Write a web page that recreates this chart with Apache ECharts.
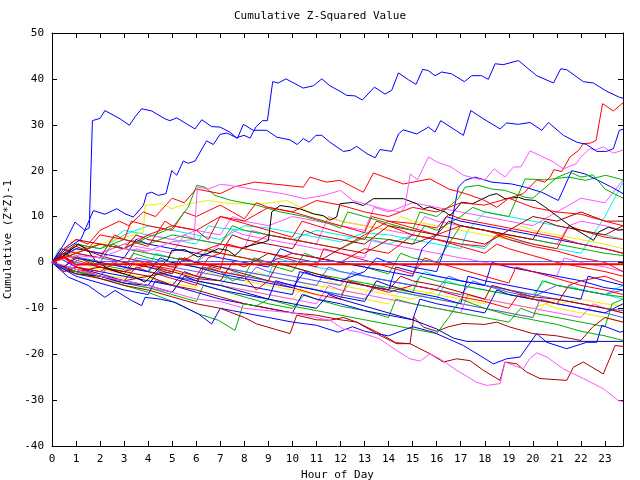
<!DOCTYPE html>
<html><head><meta charset="utf-8">
<script src="https://cdn.jsdelivr.net/npm/echarts@6/dist/echarts.min.js"></script>
<style>html,body{margin:0;padding:0;background:#fff}#c{width:640px;height:480px}</style>
</head><body><div id="c"></div>
<script>
// ---- data: [hour, cumulative value] ----
const hourTicks = [0,1,2,3,4,5,6,7,8,9,10,11,12,13,14,15,16,17,18,19,20,21,22,23];
const blueA = [[0,0],[0.5,4],[0.96,8.8],[1.37,7],[1.55,7.5],[1.68,30.9],[2.0,31.4],[2.2,33.1],[2.83,31.3],[3.22,29.9],[3.45,31.7],[3.73,33.5],[4.15,33.0],[4.7,31.3],[4.9,30.9],[5.19,31.5],[5.6,30.2],[5.95,29.1],[6.23,31.1],[6.64,29.6],[6.99,29.5],[7.4,28.4],[7.71,27.0],[7.96,30.1],[8.37,28.8],[8.93,28.8],[9.35,27.3],[9.9,26.7],[10.2,25.7],[10.45,27.0],[10.7,26.2],[10.98,27.7],[11.22,27.7],[11.56,26.2],[12.12,24.2],[12.4,24.4],[12.67,25.3],[13.1,23.7],[13.44,22.8],[13.64,24.6],[14.13,24.2],[14.41,28.0],[14.61,28.9],[15.17,28.0],[15.66,29.5],[15.93,28.4],[16.17,30.9],[17.11,27.7],[17.42,33.1],[17.94,31.3],[18.64,29.1],[18.91,30.4],[19.4,30.1],[19.88,30.5],[20.37,28.8],[20.65,30.5],[21.27,27.7],[21.83,26.2],[22.24,25.7],[22.66,24.2],[23.07,24.2],[23.35,24.8],[23.6,28.8],[23.75,29]];
const blueB = [[0,0],[0.6,3],[1.2,5],[1.72,11.3],[2.2,10.5],[2.69,11.7],[3.04,10.6],[3.38,9.9],[3.8,12.4],[3.94,15.0],[4.15,15.3],[4.42,14.6],[4.74,15.0],[4.98,20.0],[5.19,19.0],[5.46,22.1],[5.67,21.6],[5.95,22.1],[6.43,26.5],[6.71,25.7],[6.99,27.9],[7.27,28.2],[7.68,27.2],[7.99,27.7],[8.24,27.1],[8.49,29.6],[8.76,30.9],[8.96,30.9],[9.18,39.4],[9.41,39.1],[9.73,40.0],[10.45,38.0],[10.87,38.5],[11.22,40.0],[11.56,38.5],[11.98,37.3],[12.26,36.4],[12.6,36.3],[12.91,35.4],[13.41,38.2],[13.85,36.7],[14.13,37.5],[14.41,41.3],[14.83,39.8],[15.14,38.8],[15.42,42.1],[15.65,41.8],[15.93,40.7],[16.21,41.5],[16.62,41.1],[17.15,39.4],[17.46,40.7],[17.87,40.7],[18.15,39.9],[18.43,43.3],[18.77,43.1],[19.4,44.0],[20.16,40.7],[20.86,39.1],[21.16,42.2],[21.41,42.0],[22.1,39.4],[22.52,39.1],[23.07,37.3],[23.6,36.0],[23.75,35.8]];
const magentaUp = [[0,0],[1,1.5],[2,1],[3,3],[4,2.5],[5,4.5],[5.9,5],[6.05,16.4],[6.5,16],[7,17],[7.4,16.8],[8.3,16.0],[9.6,15],[10.5,13.9],[11.3,14.6],[12,15.7],[12.5,13.5],[13.2,12.5],[13.9,11.5],[14.5,11],[14.68,12.1],[14.9,19.3],[15.2,18.0],[15.66,23.0],[16.0,21.9],[16.6,20.8],[17.11,19.0],[17.7,18.2],[18.0,18.0],[18.39,20.4],[18.84,18.6],[19.19,20.8],[19.5,20.8],[19.88,24.3],[20.3,23.3],[20.86,21.9],[21.27,20.4],[21.8,21.5],[22.0,23.0],[22.38,24.8],[22.6,24.5],[22.93,25.2],[23.35,23.8],[23.75,24.5]];
const redEnd = [[0,0],[1,2],[2,4],[3,3],[4,6],[5,8],[6,7],[7,10],[8,9],[9,12],[10,11],[11,13.5],[12,12.5],[13,11],[14,10],[15,12],[16,11],[17,13],[18,12.5],[19,14],[19.6,15],[20.16,18.0],[20.5,17.5],[20.72,18.6],[20.88,20.2],[21.2,19.8],[21.55,23.0],[21.9,24.4],[22.1,25.9],[22.4,26],[22.63,26.6],[22.9,34.6],[23.35,33.0],[23.75,34.8]];
const redMid = [[0,0],[0.5,3],[1,5],[1.5,4],[2,7],[2.8,9],[3.2,8],[3.8,11],[4.3,10],[5,14],[5.5,13],[6,16],[7,15],[7.6,16.5],[8.44,17.5],[9.2,17.1],[10.45,16.4],[10.73,18.6],[11.42,17.5],[11.98,17.9],[12.95,15.3],[13.37,19.5],[14.61,17.1],[15.72,18.2],[16.5,16],[17.2,15],[18,13.5],[18.5,12],[19,14],[20,12],[21,11],[22,10.5],[23,9],[23.75,8]];
const blackLine = [[0,0],[0.5,1.5],[1.1,4],[1.5,2.6],[1.8,0.4],[2.34,-1.4],[3.0,-2.5],[3.45,-3.2],[3.87,-4.3],[4.3,-2],[4.84,0.8],[4.98,2.6],[5.53,2.8],[5.81,1.9],[6.09,1.2],[6.64,2.3],[6.92,3.0],[7.33,2.6],[7.61,1.5],[7.96,3.3],[8.79,4.4],[9.0,4.8],[9.14,11.0],[9.48,12.4],[9.9,12.1],[10.3,11.7],[10.87,10.6],[11.28,10.2],[11.56,9.2],[11.84,9.9],[11.98,12.8],[12.53,13.1],[12.95,12.4],[13.37,13.9],[14.61,13.9],[15.17,12.8],[15.45,11.7],[15.72,12.1],[16.35,11.0],[16.56,10.2],[17.04,13.1],[17.5,12.8],[18.2,14.6],[18.5,15.0],[18.84,13.9],[19.4,14.2],[19.68,13.7],[20.1,13.5],[20.5,12.1],[21.06,9.9],[21.62,7.7],[22.31,5.5],[22.52,4.8],[22.73,6.6],[23.15,7.7],[23.56,7.0],[23.75,7.2]];
const greenUp = [[0,0],[1,2],[2,4],[3,3],[4,5.5],[5,7.5],[5.25,9.2],[5.67,12.1],[6.02,16.8],[6.37,16.4],[6.78,14.6],[7.47,13.5],[8.5,12.5],[9.5,11],[10.5,10],[11.5,8.5],[12,7.5],[12.3,11],[13,10],[14,8.5],[15,7],[15.3,11],[16,10],[16.9,13.9],[17.18,16.4],[17.74,16.8],[18.29,16.0],[18.84,15.7],[19.68,14.2],[20,14],[21,18.5],[21.55,19.7],[22,18.6],[22.5,19.1],[23,16],[23.75,14]];
const magentaLow = [[0,0],[1,-1.5],[2,-3],[3,-4],[4,-5],[5,-6.5],[6,-8],[7,-8.5],[8,-10],[9,-10.5],[10,-11],[11,-12],[11.56,-12.6],[12.12,-14.5],[12.81,-15.2],[13.64,-16.7],[14.34,-19.2],[14.89,-21.0],[15.31,-21.5],[15.72,-19.9],[16.14,-21.0],[16.83,-23.5],[17.66,-26.1],[18.08,-26.8],[18.64,-26.4],[18.84,-21.7],[19.6,-23.2],[19.86,-21.0],[20.16,-19.7],[20.58,-20.6],[21.27,-23.2],[22.1,-25.3],[22.93,-27.5],[23.56,-30.1],[23.75,-30.3]];
const darkredLow = [[0,0],[0.5,-1],[1,-2.5],[2,-3.5],[3,-5],[4,-6],[5,-7.5],[6,-9],[7,-10],[8,-12],[8.51,-13.4],[9.9,-15.5],[10.18,-11.5],[11,-12.5],[11.56,-12.6],[12.12,-12.0],[12.67,-13.0],[13.64,-15.9],[14.34,-17.7],[14.89,-17.7],[15.72,-19.9],[16.28,-21.7],[16.83,-21.0],[17.39,-21.4],[17.94,-23.5],[18.64,-25.7],[18.84,-21.7],[19.33,-22.1],[19.74,-23.9],[20.3,-25.3],[21.41,-25.7],[21.69,-22.8],[22.1,-21.7],[22.93,-24.3],[23.42,-18.1],[23.75,-18.3]];
const darkred2 = [[0,0],[1,-1.5],[2,-3],[3,-4],[4,-3],[5,-5],[6,-6],[7,-7.5],[8,-9],[9,-10],[10,-11],[11,-11.5],[12,-12.5],[12.67,-13.0],[13.64,-15.5],[14.3,-17.5],[14.89,-17.7],[15.05,-11.9],[15.45,-14.1],[16,-15],[16.5,-14],[17.1,-13.3],[18,-13.5],[18.5,-13],[19,-14],[20,-15.5],[21,-16],[22,-17],[22.5,-14],[23,-12],[23.75,-13]];
const navyFlat = [[0,0],[0.5,-1.5],[1,-2.5],[2,-3],[3,-4.5],[4,-5],[5,-6.5],[5.5,-3],[6,-4],[7,-5],[8,-6.5],[9,-8],[10,-9],[11,-10],[11.5,-7],[12,-8],[13,-9.5],[14,-11],[15,-12.5],[16,-14.5],[16.7,-16.5],[17.25,-17.2],[23.75,-17.2]];
const blueLow = [[0,0],[0.68,-3.2],[1.5,-5],[2.2,-7.6],[2.62,-6.1],[3.31,-8.3],[3.73,-9.4],[3.87,-7.6],[4.5,-8],[5.12,-8.7],[6.08,-11.2],[6.64,-13.4],[7,-10],[7.5,-10.5],[8,-11],[9,-12],[10,-13],[11,-13.7],[11.9,-15.2],[12.5,-14],[13,-15],[14,-16],[15,-14],[15.86,-15.2],[17.11,-18.1],[18.36,-22.1],[18.91,-21.0],[19.47,-20.6],[20.16,-15.5],[20.58,-17.4],[21.41,-18.8],[22.24,-17.4],[22.66,-17.4],[22.87,-13.7],[23.63,-15.2],[23.75,-15]];
const greenLow = [[0,0],[0.5,-1.5],[1,-2],[2,-3.5],[3,-5],[4,-6.5],[5,-8.5],[6.08,-11.2],[6.92,-12.6],[7.61,-14.8],[7.96,-9.0],[8.5,-9.5],[9,-8],[10,-9.5],[11,-10.5],[12,-11.5],[13,-12.5],[14,-13.5],[15,-14.5],[16,-15.5],[16.5,-12],[17,-8],[17.5,-9],[18,-10],[19,-11.5],[20,-12.5],[21,-13.5],[22,-15],[23,-16],[23.75,-17]];
const redFlat = [[0,0],[0.5,1.2],[1.0,-0.5],[1.5,-0.4],[23.75,-0.4]];
const blueFlat = [[0,0],[0.6,-1.5],[1.2,1],[2,0.2],[23.75,0.2]];
const red1 = [[0,0],[0.4,3],[1,2],[2,1],[2.6,6],[3,5],[4,3.5],[4.7,9],[5,8],[6,7],[6.5,5],[7,10],[8,8.5],[9,7],[10,5.5],[10.4,9],[11,8],[12,6.5],[13,5],[13.5,9],[14,8],[15,6],[16,5],[17,3.5],[18,2],[18.5,4],[19,3],[20,1.5],[21,0],[22,-1],[23,-2],[23.75,-3]];
const red2 = [[0,0],[0.5,-1],[1,1.5],[1.5,0],[2,-1],[3,-2.5],[3.5,0.5],[4,-0.5],[5,-2],[5.5,1],[6,0],[7,-1.5],[7.3,4],[8,3],[9,2],[10,0.5],[11,-1],[11.3,3],[12,2],[13,0.5],[14,-1],[15,-2.5],[15.5,1],[16,0],[17,-1.5],[18,-3],[19,-4.5],[19.3,-1],[20,-2],[21,-3.5],[22,-5],[23,-6],[23.75,-7]];
const red3 = [[0,0],[0.5,2],[1,4],[1.5,3],[2,6],[3,5],[3.3,9],[4,8],[5,7],[5.5,11],[6,10],[7,12.5],[7.5,11],[8,9.5],[8.5,13],[9,12],[10,11],[11,9.5],[12,8],[13,6.5],[13.3,10],[14,9],[15,7.5],[16,6],[17,8],[18,7],[19,5.5],[20,4],[21,3],[21.5,8],[22,7],[23,5.5],[23.75,5]];
const red4 = [[0,0],[0.5,-2],[1,-1],[2,-3],[3,-4],[3.5,-1],[4,-2],[5,-3.5],[6,-5],[6.3,-1],[7,-2],[8,-3],[8.5,-6],[9,-4],[10,-5.5],[11,-7],[12,-8],[12.3,-4],[13,-5],[14,-6.5],[15,-5],[16,-6],[17,-7.5],[18,-8.5],[19,-10],[19.4,-7],[20,-8],[21,-9],[21.5,-5],[22,-4],[23,-3],[23.75,-4.5]];
const red5 = [[0,0],[0.5,1],[1,-1],[2,-2],[3,1],[4,0],[5,-1],[6,2],[7,4],[8,3],[9,6],[10,5],[11,4],[12,3],[13,6],[14,9],[15,8.5],[16,7.5],[16.5,10.5],[17,9.5],[18,8.5],[19,7.5],[20,6.5],[21,5.5],[22,4],[23,3],[23.75,2]];
const red6 = [[0,0],[0.5,2],[1,0.5],[2,-1],[3,-2],[4,-0.5],[5,-1.5],[6,-3],[6.5,1],[7,2],[8,1],[9,0],[10,2],[11,1],[12,0],[13,3],[14,2],[15,6],[16,5],[17,4],[18,3.5],[18.5,6],[19,5],[20,3.5],[21,2.5],[22,1],[23,0],[23.75,-2]];
const darkred1 = [[0,0],[0.5,2],[1,3.5],[1.5,2.5],[2,1.5],[3,0],[4,-1],[5,-2.5],[5.3,1],[6,0],[7,-1],[8,-2.5],[9,-4],[9.4,0],[10,-1],[11,-2.5],[12,-4],[13,-5],[14,-6],[14.5,-3],[15,-4],[16,-5],[17,-6.5],[18,-8],[18.3,-5],[19,-6],[20,-7.5],[21,-8],[22,-9],[23,-10],[23.75,-11]];
const darkred3 = [[0,0],[0.5,3],[1,5],[2,4],[3,3],[3.5,6],[4,5],[5,4],[6,3],[7,2],[7.5,6],[8,5],[9,4],[10,3],[10.5,7],[11,6],[12,5],[13,4],[14,8],[15,7],[16,6],[16.5,9],[17,8],[18,7],[19,6],[20,5],[20.5,9],[21,8],[22,7],[23,6],[23.75,8]];
const darkred4 = [[0,0],[0.5,-1],[1,-2],[2,-1],[3,-2],[4,-3],[5,-2],[6,-3.5],[7,-4],[7.5,0],[8,-1],[9,2],[10,1],[11,0],[12,3],[13,2],[14,5],[15,4],[16,6],[17,5],[18,4],[19,7],[20,10],[21,9],[22,11],[22.5,10],[23,9],[23.75,9]];
const green1 = [[0,0],[0.5,2],[1,1],[2,0],[2.5,4],[3,3],[4,2],[5,1],[6,0],[6.5,3],[7,2],[8,1],[9,-0.5],[10,-2],[10.5,2],[11,1],[12,0],[13,-1],[14,-2.5],[14.5,2],[15,1],[16,0],[16.5,4],[17,8],[18,7],[19,6],[20,5],[21,4],[22,3],[23,2],[23.75,1.5]];
const green2 = [[0,0],[0.5,-1.5],[1,-2],[2,-3],[3,-4.5],[4,-5.5],[5,-7],[6,-8.5],[6.3,-5],[7,-6],[8,-7.5],[9,-9],[10,-10],[10.5,-7],[11,-8],[12,-9.5],[13,-10.5],[14,-12],[14.3,-8],[15,-9],[16,-10],[17,-11],[18,-12],[19,-13],[19.5,-10],[20,-11],[21,-12],[22,-13],[23,-14],[23.3,-9],[23.75,-8]];
const green3 = [[0,0],[0.3,2],[1,1],[2,-0.5],[3,-1.5],[3.4,2],[4,1],[5,0],[6,-1],[7,-2],[7.5,-4],[8,-3],[8.4,1],[9,0],[10,-1],[11,-2.5],[12,-3.5],[13,-4.5],[14,-5.5],[15,-6.5],[15.3,-3],[16,-4],[17,-5],[18,-6],[19,-7],[20,-8],[20.4,-4],[21,-5],[22,-6],[23,-7],[23.75,-7.5]];
const green4 = [[0,0],[0.5,2],[1,4],[2,3],[3,5],[4,4],[5,6],[6,5],[7,4],[7.5,8],[8,7],[9,6],[10,5],[11,4],[12,3],[13,5.5],[14,5],[15,4],[15.5,8],[16,7],[17,10],[17.5,12],[18,11],[19,10],[19.68,18.2],[20.5,18],[21.47,18.6],[22.2,17.9],[23.03,19],[23.75,18]];
const blue1 = [[0,0],[0.5,-2],[1,-1],[2,-2.5],[3,-4],[4,-5],[4.4,-2],[5,-3],[6,-4.5],[7,-6],[8,-7],[9,-8],[9.3,-4],[10,-5],[11,-6],[12,-7.5],[13,-8.5],[13.5,-4],[14,-5],[15,-6.5],[16,-7.5],[17,-9],[17.3,-3],[18,-4],[19,-5],[20,-6],[21,-7],[22,-8],[22.3,-3],[23,-4],[23.75,-5]];
const blue2 = [[0,0],[0.5,1.5],[1,3],[2,2],[3,1],[3.5,5],[4,4],[5,3],[6,2],[7,1],[8,0],[9,-1],[9.5,3],[10,2],[11,1],[12,0],[13,-1],[14,-2],[15,-3],[15.4,3],[16,6],[16.4,10],[17,9],[18,8],[19,7],[20,6],[21,5],[22,4],[23,3],[23.75,2]];
const blue3 = [[0,0],[0.3,1],[1,-1],[2,-2],[3,-3],[4,-4],[5,-5],[5.5,-2],[6,-3],[7,-4],[8,-5],[9,-6],[10,-7],[10.3,-2],[11,-3],[12,-4],[13,-5],[14,-6],[14.3,-1],[15,-2],[16,-3],[17,-4],[18,-5],[18.3,0],[19,-1],[20,-2],[21,-3],[22,-4],[23,-5.5],[23.75,-6]];
const blue4 = [[0,0],[0.5,-1],[1,1],[2,0],[3,-1],[4,-2],[4.5,1],[5,0],[6,-1],[7,-2.5],[8,-3.5],[9,-4.5],[10,-5.5],[10.5,-2],[11,-3],[12,-4],[13,-2],[13.5,1],[14,0],[15,-1],[16,-2],[16.5,5.5],[16.9,16.4],[17.18,17.9],[17.6,18.6],[18.29,17.5],[19.12,17.1],[19.68,16.4],[20.37,15.3],[21.06,13.5],[21.62,20.0],[22.17,19.3],[23.28,16.4],[23.75,15]];
const blue5 = [[0,0],[0.5,-1.5],[1,-3],[2,-4.5],[3,-6],[4,-7],[4.3,-4],[5,-5],[6,-6.5],[7,-8],[8,-9],[9,-10],[10,-11],[10.4,-7],[11,-8],[12,-9],[13,-10.5],[14,-11.5],[15,-12.5],[15.3,-8],[16,-9],[17,-10],[18,-11],[18.5,-6],[19,-7],[20,-8],[21,-9],[22,-10],[23,-11],[23.75,-9]];
const lav1 = [[0,0],[0.5,1],[1,0],[2,-1],[3,-2],[3.5,1],[4,0.5],[5,-1],[6,-2],[7,-3],[8,-4],[8.5,-1],[9,-2],[10,-3],[11,-4],[12,-5],[12.5,-2],[13,-3],[14,-4],[15,-5],[16,-6],[17,-7],[17.5,-4],[18,-5],[19,-6],[20,-7],[21,-8],[22,-9],[23,-10],[23.75,-10.5]];
const lav2 = [[0,0],[0.5,3],[1,2],[2,1],[3,0],[4,-1],[5,-2],[5.5,1],[6,0],[7,-1],[8,-2],[9,-3],[10,-4],[11,-5],[11.5,-1],[12,-2],[13,-3],[14,-4],[15,-5],[16,-6],[16.5,-3],[17,-4],[18,-5],[19,-6.5],[20,-7.5],[21,-5],[22,-6],[23,-7],[23.75,-6]];
const lav3 = [[0,0],[0.5,-1],[1,-2],[2,-3],[2.5,0],[3,-1],[4,-2],[5,-3],[6,-4],[6.5,-1],[7,-2],[8,-3],[9,-4],[10,-5],[11,-6],[12,-7],[13,-8],[13.5,-5],[14,-6],[15,-7],[16,-8],[17,-9],[18,-10],[19,-11],[20,-12],[20.3,-8],[21,-9],[22,-10],[23,-11],[23.75,-12]];
const mag1 = [[0,0],[0.5,2],[1,1],[2,0],[3,-1],[3.5,3],[4,2],[5,1],[6,0],[7,4],[7.5,7],[8,6],[9,5],[10,4],[11,3],[12,2],[13,1],[13.3,5],[14,4],[15,3],[16,2],[17,1],[18,0],[19,-1],[20,-2],[21,-3],[21.3,1],[22,0],[23,-1],[23.75,-2]];
const mag2 = [[0,0],[0.5,1],[1,3],[2,2],[3,4],[4,3],[5,2],[5.5,6],[6,5],[7,4],[8,3],[8.3,7],[9,6],[10,5],[11,4],[11.5,10],[12,9],[13,8],[14,7],[15,6],[15.5,10],[16,9],[17,8],[18,7],[19,6],[20,5],[21,4],[21.5,8],[22,9],[23,8],[23.75,7]];
const mag3 = [[0,0],[0.5,-1],[1,-2],[2,-3.5],[3,-4.5],[4,-5.5],[5,-6.5],[5.5,-3],[6,-4],[7,-5],[8,-6],[9,-7],[10,-8],[11,-9],[11.5,-5],[12,-6],[13,-7],[14,-8],[15,-9],[16,-10],[17,-11],[17.3,-7],[18,-8],[19,-9],[20,-10],[21,-11],[22,-12],[22.5,-9],[23,-10],[23.75,-11]];
const mag4 = [[0,0],[0.5,1.5],[1,3],[2,2],[3,4],[4,6],[5,5],[6,7],[7,6],[7.5,10],[8,9],[9,8],[10,10],[11,9],[12,8],[13,7],[13.4,12],[14,11],[15,13],[16,12],[17,11],[18,10],[19,9],[20,8],[21,11],[22,14],[23,13],[23.75,18]];
const cyan1 = [[0,0],[0.3,3],[1,2],[2,1],[2.5,5],[3,7],[4,6],[5,5],[6,4],[6.5,8],[7,7.5],[8,7],[9,6],[10,5],[11,7],[12,6],[13,5],[14,4],[15,6],[16,5],[17,4],[18,3],[18.5,6],[19,5],[20,4],[21,3],[22,2],[22.5,6],[23,10],[23.75,17.5]];
const cyan2 = [[0,0],[0.5,-1],[1,-2],[2,-3],[3,-4],[3.5,-1],[4,-2],[5,-3],[6,-4],[7,-5],[7.5,-2],[8,-3],[9,-4],[10,-5],[11,-6],[12,-7],[12.5,-4],[13,-5],[14,-6],[15,-7],[16,-8],[16.4,-4],[17,-5],[18,-6],[19,-7],[20,-8],[21,-9],[21.5,-5],[22,-6],[23,-7],[23.75,-8]];
const cyan3 = [[0,0],[0.5,2],[1,1],[2,0],[3,-1],[4,-2],[4.3,2],[5,1],[6,0],[7,-1],[8,-2],[9,-3],[9.3,1],[10,0],[11,-1],[12,-2],[13,-3],[14,-4],[15,-5],[15.5,-2],[16,-3],[17,-4],[18,-5],[19,-6],[20,-7],[20.5,-4],[21,-5],[22,-6],[23,-7],[23.75,-5]];
const cyan4 = [[0,0],[0.5,1.5],[1,4],[2,3],[3,6],[4,8],[5,7],[6,6],[7,5],[8,8],[9,7.5],[10,6.5],[11,5.5],[12,4.5],[13,6.5],[14,6],[15,5],[16,4],[17,3],[17.3,7],[18,11],[19,10],[20,9],[21,8],[22,7],[23,6],[23.75,5]];
const yellow1 = [[0,0],[0.5,1],[1,2.5],[2,4],[3,5.5],[3.8,6.6],[3.87,12.4],[4.56,12.8],[4.98,11.7],[5.67,12.8],[6.5,13.5],[7.4,12.8],[8.8,12.8],[9.76,13.5],[10.3,12.1],[10.87,10.6],[12,9],[13,8],[14,7],[14.5,10],[15,9],[16,8],[17,7],[18,6],[19,5],[19.5,8],[20,7],[21,6],[22,5],[23,4],[23.75,3]];
const yellow2 = [[0,0],[0.5,-1],[1,-2],[2,-3],[3,-4],[4,-5],[4.5,-2],[5,-3],[6,-4],[7,-5],[8,-6],[9,-7],[10,-8],[10.5,-5],[11,-6],[12,-7],[13,-8],[14,-9],[14.5,-6],[15,-7],[16,-8],[17,-9],[18,-10],[19,-11],[20,-12],[20.5,-9],[21,-10],[22,-11],[23,-12],[23.75,-13]];
const yellow3 = [[0,0],[0.5,1],[1,0],[2,-1.5],[3,-2.5],[4,-3.5],[5,-4.5],[6,-5.5],[6.5,-2],[7,-3],[8,-4],[9,-5],[10,-6],[11,-7],[11.5,-4],[12,-5],[13,-6],[14,-7],[15,-8],[16,-6],[17,-7],[18,-8],[19,-9],[20,-10],[21,-8],[22,-9],[23,-10],[23.75,-10.5]];
const yellow4 = [[0,0],[0.5,-0.5],[1,-1.5],[2,-2.5],[3,-3.5],[3.5,0],[4,-1],[5,-2],[6,-3],[7,-4],[8,-5],[8.5,-2],[9,-3],[10,-4],[11,-5],[12,-6],[13,-7],[13.5,-4],[14,-5],[15,-6],[16,-7],[17,-8],[18,-9],[18.5,-6],[19,-7],[20,-8],[21,-9],[22,-8],[23,-9],[23.75,-9.5]];

// ---- styling (not data) ----
const C = {red:'#ff0000', green:'#00b000', blue:'#0000ff', magenta:'#ff55ff', cyan:'#00eeee',
  darkred:'#aa0000', yellow:'#eeee00', black:'#000000', lav:'#5555ff', navy:'#0000aa'};
const lines = [
  [cyan1,C.cyan],[yellow2,C.yellow],[yellow3,C.yellow],[yellow4,C.yellow],[cyan2,C.cyan],[cyan3,C.cyan],
  [lav1,C.lav],[lav2,C.lav],[lav3,C.lav],[mag1,C.magenta],[mag2,C.magenta],[mag3,C.magenta],[mag4,C.magenta],
  [cyan4,C.cyan],[yellow1,C.yellow],[green1,C.green],[green2,C.green],[green3,C.green],[green4,C.green],
  [blue1,C.blue],[blue2,C.blue],[blue3,C.blue],[blue5,C.blue],[red1,C.red],[red2,C.red],[red3,C.red],[red4,C.red],
  [red5,C.red],[red6,C.red],[darkred1,C.darkred],[darkred3,C.darkred],[darkred4,C.darkred],[darkred2,C.darkred],
  [greenLow,C.green],[blueLow,C.blue],[navyFlat,C.navy],[darkredLow,C.darkred],[magentaLow,C.magenta],
  [blue4,C.blue],[greenUp,C.green],[blackLine,C.black],[redMid,C.red],[redEnd,C.red],[magentaUp,C.magenta],
  [blueA,C.blue],[blueB,C.blue],[redFlat,C.red,2],[blueFlat,C.lav,1]
];
const font = 'DejaVu Sans Mono';
const chart = echarts.init(document.getElementById('c'), null, {renderer:'canvas'});
const axisCommon = {
  axisLine:{show:true, onZero:false, lineStyle:{color:'#000', width:1}},
  axisTick:{show:true, inside:true, length:5, lineStyle:{color:'#000'}},
  splitLine:{show:false}
};
chart.setOption({
  animation:false,
  backgroundColor:'#fff',
  title:{text:'Cumulative Z-Squared Value', left:'center', top:6,
    textStyle:{fontFamily:font, fontSize:11, fontWeight:'normal', color:'#000'}},
  grid:{left:52, right:17, top:33, bottom:34, containLabel:false, outerBoundsMode:'none'},
  xAxis:[
    Object.assign({type:'value', min:0, max:23.75, interval:1, position:'bottom',
      name:'Hour of Day', nameLocation:'middle', nameGap:22,
      nameTextStyle:{fontFamily:font, fontSize:11, color:'#000'},
      axisLabel:{fontFamily:font, fontSize:11, color:'#000', margin:8,
        formatter:v => hourTicks.includes(v) ? String(v) : ''}}, axisCommon),
    Object.assign({type:'value', min:0, max:23.75, interval:1, position:'top', axisLabel:{show:false}}, axisCommon)
  ],
  yAxis:[
    Object.assign({type:'value', min:-40, max:50, interval:10, position:'left',
      name:'Cumulative (Z*Z)-1', nameLocation:'middle', nameGap:34,
      nameTextStyle:{fontFamily:font, fontSize:11, color:'#000'},
      axisLabel:{fontFamily:font, fontSize:11, color:'#000', margin:8}}, axisCommon),
    Object.assign({type:'value', min:-40, max:50, interval:10, position:'right', axisLabel:{show:false}}, axisCommon)
  ],
  series: lines.map((l,i) => ({
    type:'line', data:l[0], showSymbol:false, symbol:'none', silent:true,
    lineStyle:{color:l[1], width:l[2]||1}, z:2+i*0.01
  }))
});
</script></body></html>
